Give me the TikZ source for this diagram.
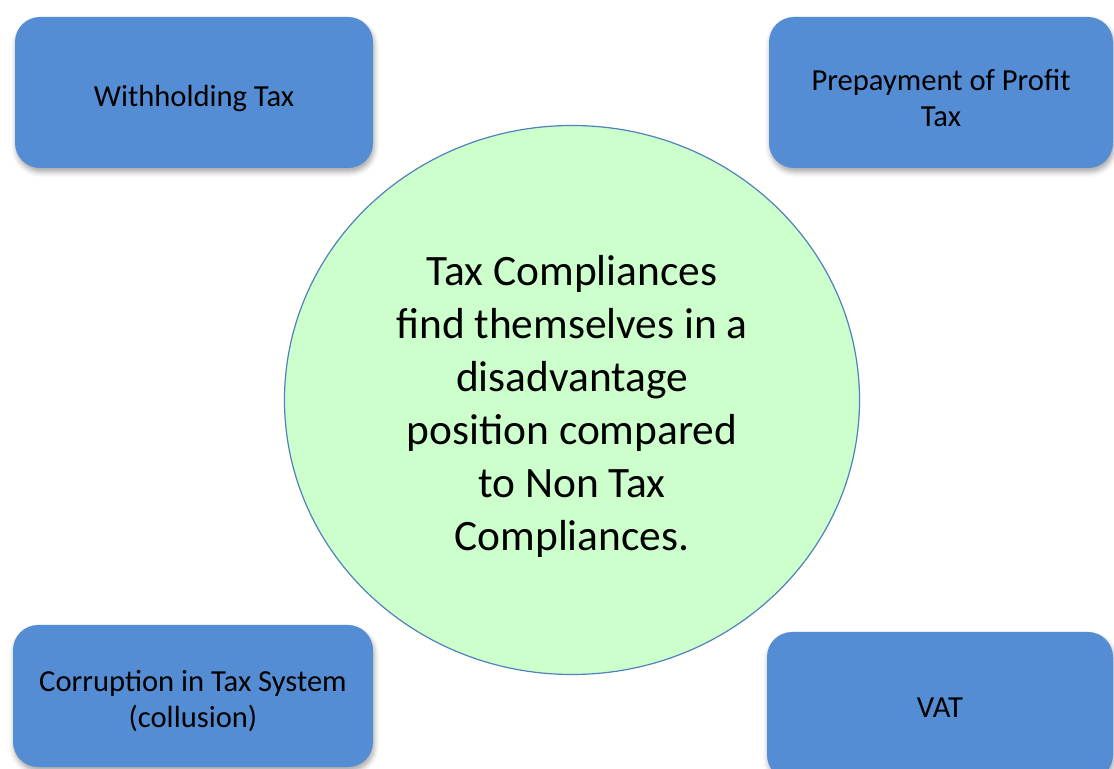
\documentclass[tikz,border=0pt]{standalone}
\usepackage{fontspec}
\setmainfont{Carlito}
\usetikzlibrary{shapes.geometric,shadows.blur}

\definecolor{boxblue}{RGB}{84,141,212}
\definecolor{rimblue}{RGB}{79,129,189}
\definecolor{paleleaf}{RGB}{204,255,204}

% strut that pushes the first line down a little
\newcommand{\lowstrut}[1]{\rule{0pt}{#1}}

\begin{document}
\begin{tikzpicture}[x=0.5pt,y=-0.5pt,
    softshadow/.style={blur shadow={shadow xshift=0.6pt,shadow yshift=-2pt,
      shadow blur radius=2.5pt,shadow opacity=35}}]

    % `factor' is used for the four corner boxes.
    % `core' is the ellipse in the middle.
    \tikzstyle{factor} = [fill=boxblue,rounded corners=12.5pt,softshadow,
                          align=center,font=\fontsize{15.3}{18}\selectfont,
                          inner sep=0pt]
    \tikzstyle{core} = [ellipse,draw=rimblue,line width=0.6pt,fill=paleleaf,
                        align=center,font=\fontsize{21.7}{26.5}\selectfont,
                        inner sep=0pt,minimum width=287.5pt,minimum height=274.5pt]
    %
    \clip (0,0) rectangle (1114,769);

    % Centre.
    \node[core] (gap) at (572,400) {\lowstrut{0.97em}Tax Compliances\\find themselves in a\\disadvantage\\position compared\\to Non Tax\\Compliances.};

    % Top row.
    \node[factor,minimum width=179pt,minimum height=75.5pt] (wtax) at (194,92.5) {\lowstrut{1.1em}Withholding Tax};
    \node[factor,minimum width=172pt,minimum height=75.5pt] (ptax) at (941,92.5) {\lowstrut{1.05em}Prepayment of Profit\\Tax};

    % Bottom row.
    \node[factor,minimum width=180pt,minimum height=71pt] (corr) at (193,696) {\lowstrut{1.05em}Corruption in Tax System\\(collusion)};
    \node[factor,minimum width=173pt,minimum height=74pt] (vat) at (940,706) {\lowstrut{0.78em}VAT};
    %
\end{tikzpicture}
\end{document}
